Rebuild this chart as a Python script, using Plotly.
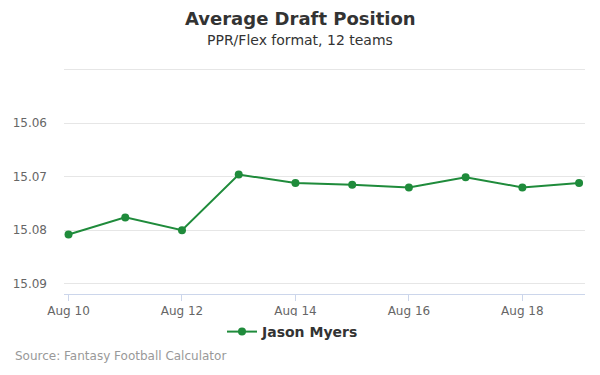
import plotly.graph_objects as go

dates = ["2019-08-10", "2019-08-11", "2019-08-12", "2019-08-13", "2019-08-14",
         "2019-08-15", "2019-08-16", "2019-08-17", "2019-08-18", "2019-08-19"]
adp = [15.0808, 15.0776, 15.0800, 15.0696, 15.0712,
       15.0715, 15.0720, 15.0701, 15.0720, 15.0712]
series_name = "Jason Myers"
y_ticks = [15.05, 15.06, 15.07, 15.08, 15.09]
y_labels = ["", "15.06", "15.07", "15.08", "15.09"]

GREEN = "#1f8b3b"
FONT = "DejaVu Sans"
T, B, L, R = 69, 81, 64, 15
PLOT_H = 375 - T - B
PLOT_W = 600 - L - R
BOTTOM = 375 - B
CX = 0.5 - (0.5 * PLOT_W + L - 300) / PLOT_W


def py(px):
    """paper y from pixel y (top-left origin)"""
    return (BOTTOM - px) / PLOT_H


def px_x(px):
    return (px - L) / PLOT_W


fig = go.Figure()
fig.add_trace(go.Scatter(
    x=dates, y=adp, name="<b>" + series_name + "</b>", mode="lines+markers",
    line=dict(color=GREEN, width=2),
    marker=dict(color=GREEN, size=8),
))

fig.update_layout(
    width=600, height=375,
    paper_bgcolor="white", plot_bgcolor="white",
    font=dict(family=FONT, color="#666666", size=12),
    margin=dict(l=L, r=R, t=T, b=B, autoexpand=False),
    showlegend=True,
    legend=dict(
        orientation="h", x=px_x(222), xanchor="left",
        y=py(332), yanchor="middle",
        font=dict(family=FONT, size=14, color="#333333"),
    ),
    xaxis=dict(
        type="date", automargin=False,
        range=["2019-08-09 22:05", "2019-08-19 02:30"],
        tick0="2019-08-10", dtick=2 * 86400000,
        tickformat="%b %d",
        showgrid=False,
        showline=True, linecolor="#ccd6eb", linewidth=1,
        ticks="outside", ticklen=6, tickcolor="#ccd6eb",
        tickfont=dict(color="#666666", size=12),
        zeroline=False,
    ),
    yaxis=dict(
        automargin=False,
        range=[15.0919, 15.0499],
        tickvals=y_ticks, ticktext=y_labels,
        showgrid=True, gridcolor="#e6e6e6", gridwidth=1,
        showline=False, zeroline=False,
        ticks="", ticklabelstandoff=16,
        tickfont=dict(color="#666666", size=12),
    ),
)

fig.add_shape(
    type="line", xref="paper", yref="y", x0=0, x1=1, y0=y_ticks[0], y1=y_ticks[0],
    line=dict(color="#e6e6e6", width=1), layer="below",
)

fig.add_annotation(
    text="<b>Average Draft Position</b>",
    xref="paper", yref="paper", x=CX, xanchor="center",
    y=py(19), yanchor="middle",
    showarrow=False, font=dict(family=FONT, size=18, color="#333333"),
)
fig.add_annotation(
    text="PPR/Flex format, 12 teams",
    xref="paper", yref="paper", x=CX, xanchor="center",
    y=py(40), yanchor="middle",
    showarrow=False, font=dict(family=FONT, size=14, color="#333333"),
)
fig.add_annotation(
    text="Source: Fantasy Football Calculator",
    xref="paper", yref="paper", x=px_x(13), xanchor="left",
    y=py(356), yanchor="middle",
    showarrow=False, font=dict(family=FONT, size=12, color="#999999"),
)

fig.write_html(
    "out.html",
    config={"displayModeBar": False},
    post_script="document.body.style.margin='0';document.body.style.padding='0';",
)
